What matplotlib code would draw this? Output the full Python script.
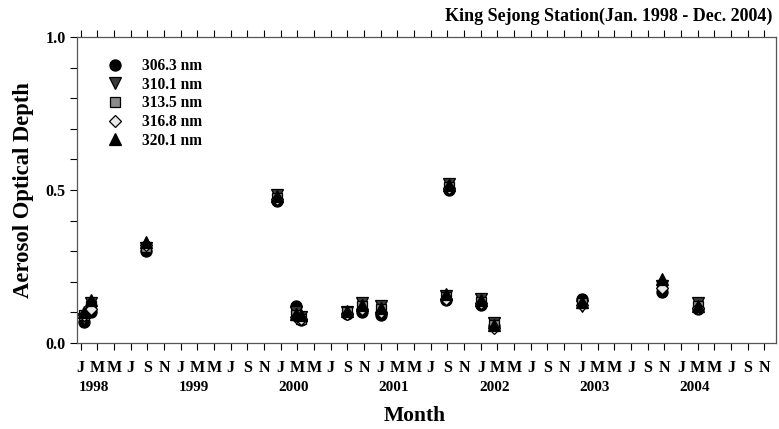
import numpy as np
import matplotlib
matplotlib.use('Agg')
import matplotlib.pyplot as plt
from matplotlib.ticker import MultipleLocator, FixedLocator, FormatStrFormatter
import matplotlib.transforms as mtransforms

plt.rcParams['font.family'] = 'Liberation Serif'
plt.rcParams['font.weight'] = 'bold'

# month index, Jan 1998 = 0
months = [0.4, 1.2, 7.8, 23.6, 25.8, 26.4, 32.0, 33.8, 36.0, 44.2, 43.8, 48.0, 49.6, 60.1, 69.7, 74.0]
aod_3063 = [0.07, 0.10, 0.30, 0.465, 0.12, 0.075, 0.095, 0.10, 0.09, 0.50, 0.14, 0.125, 0.055, 0.145, 0.165, 0.11]
aod_3101 = [0.08, 0.13, 0.31, 0.485, 0.10, 0.085, 0.10, 0.13, 0.12, 0.52, 0.155, 0.145, 0.065, 0.12, 0.185, 0.13]
aod_3135 = [0.09, 0.12, 0.315, 0.475, 0.09, 0.08, 0.10, 0.12, 0.11, 0.51, 0.15, 0.135, 0.06, 0.13, 0.19, 0.12]
aod_3168 = [0.09, 0.11, 0.32, 0.47, 0.085, 0.08, 0.095, 0.11, 0.10, 0.505, 0.145, 0.13, 0.05, 0.125, 0.18, 0.115]
aod_3201 = [0.10, 0.14, 0.33, 0.48, 0.095, 0.09, 0.105, 0.125, 0.115, 0.515, 0.16, 0.14, 0.06, 0.135, 0.21, 0.12]

labels = ['306.3 nm', '310.1 nm', '313.5 nm', '316.8 nm', '320.1 nm']
month_letters = ['J', 'M', 'M', 'J', 'S', 'N']
years = ['1998', '1999', '2000', '2001', '2002', '2003', '2004']

fig = plt.figure(figsize=(7.79, 4.29), dpi=100)
ax = fig.add_axes([0.0988, 0.2005, 0.8972, 0.7133])

series = [aod_3063, aod_3101, aod_3135, aod_3168, aod_3201]
markers = ['o', 'v', 's', 'D', '^']
fills = ['black', '#3a3a3a', '#8a8a8a', '#e8e8e8', 'black']
sizes = [8, 8.5, 7.5, 6.5, 8.5]
for vals, mk, fc, sz, lab in zip(series, markers, fills, sizes, labels):
    ax.plot(months, vals, ls='none', marker=mk, ms=sz,
            mfc=fc, mec='black', mew=0.9, label=lab)

ax.set_xlim(-0.45, 83.4)
ax.set_ylim(0, 1.0)

ticks = np.arange(0, 84, 2)
ax.xaxis.set_major_locator(FixedLocator(ticks))
ax.set_xticklabels([month_letters[i % 6] for i in range(len(ticks))],
                   fontsize=11.5, fontweight='bold')
ax.yaxis.set_major_locator(MultipleLocator(0.5))
ax.yaxis.set_minor_locator(MultipleLocator(0.1))
ax.yaxis.set_major_formatter(FormatStrFormatter('%.1f'))
for lbl in ax.get_yticklabels():
    lbl.set_fontweight('bold')
    lbl.set_fontsize(11.5)

ax.tick_params(axis='x', which='major', direction='out', length=5, width=0.8,
               top=True, pad=7, colors='black')
ax.tick_params(axis='y', which='both', direction='out', length=5, width=0.8,
               left=True, right=False, pad=3)
for sp in ax.spines.values():
    sp.set_color('#555555')
    sp.set_linewidth(0.9)

trans = mtransforms.blended_transform_factory(ax.transData, ax.transAxes)
for k, yr in enumerate(years):
    ax.text(k * 12 + 1.6, -0.145, yr, transform=trans, ha='center', va='center',
            fontsize=11, fontweight='bold')

ax.set_ylabel('Aerosol Optical Depth', fontsize=16.3, fontweight='bold', labelpad=8)
fig.text(0.533, 0.031, 'Month', ha='center', va='center', fontsize=15.5, fontweight='bold')
fig.text(0.992, 0.963, 'King Sejong Station(Jan. 1998 - Dec. 2004)', ha='right', va='center',
         fontsize=13, fontweight='bold')

ax.legend(loc='upper left', bbox_to_anchor=(0.015, 0.982), frameon=False,
          prop={'weight': 'bold', 'size': 11.2}, handletextpad=1.0,
          labelspacing=0.17, borderaxespad=0.6, handlelength=1.5)

fig.savefig('out.png', dpi=100)
